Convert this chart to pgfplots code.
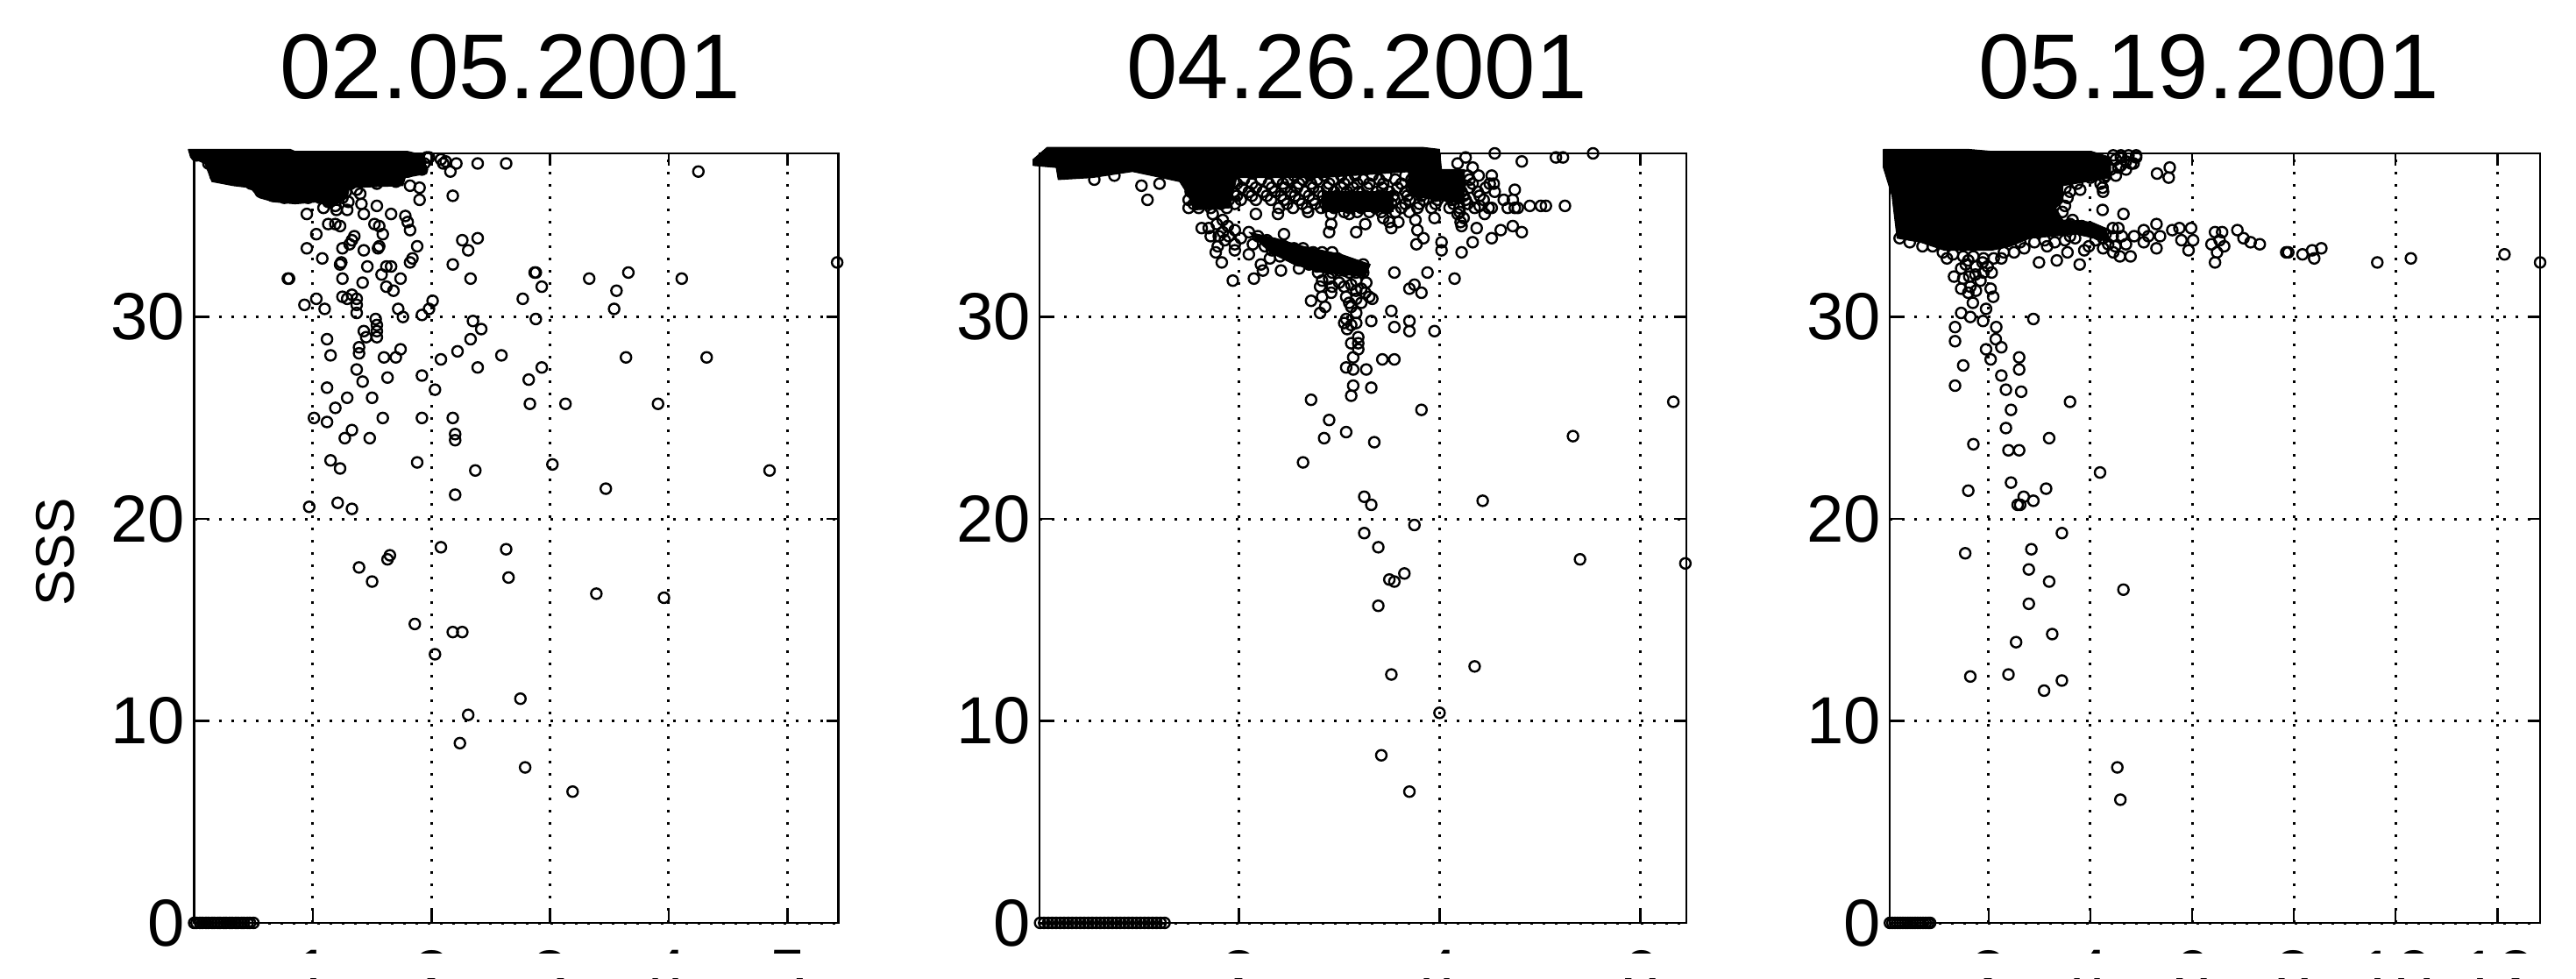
\documentclass[border=0pt]{standalone}
\usepackage{fontspec}
\setmainfont{Liberation Sans}
\usepackage{pgfplots}
\pgfplotsset{compat=1.18}
\newcommand{\titlefont}{\fontsize{52.5}{60}\selectfont}
\newcommand{\tickfont}{\fontsize{38}{44}\selectfont}
\pgfplotsset{
  panel/.style={
    scale only axis, anchor=south west, height=439pt,
    ymin=0, ymax=38.1, ytick={0,10,20,30}, clip=false,
    /pgf/number format/assume math mode=true,
    grid=major,
    grid style={black, line width=1.5pt, dash pattern=on 1.5pt off 5.5pt},
    tick align=inside, major tick length=7pt,
    tick style={black, line width=1.3pt},
    axis line style={line width=1.3pt},
    tick label style={font=\tickfont},
    xticklabel style={inner sep=0pt, yshift=-15.5pt},
    yticklabel style={inner sep=0pt, xshift=-5pt},
    title style={font=\titlefont, at={(0.5,1)}, anchor=base, yshift=25pt, xshift=-3.5pt},
  },
  dots/.style={only marks, mark=o, mark size=3pt, mark options={black, line width=1.2pt, fill=none}},
  blob/.style={black, fill=black, line width=0.5pt, mark=none},
}
\begin{document}
\begin{tikzpicture}
\path[use as bounding box] (0,0) rectangle (1469.5pt,558pt);

% 02.05.2001
\begin{axis}[panel, at={(110.75pt,31.5pt)}, width=367.5pt,
  xmin=0, xmax=5.43, xtick={1,2,3,4,5},
  title={02.05.2001}, ylabel={SSS},
  ylabel style={font=\fontsize{31}{36}\selectfont, at={(axis description cs:-0.216,0.482)}, anchor=center}]
\addplot[blob] coordinates {(-0.05,38.3)(0.81,38.3)(0.85,38.2)(1.07,38.2)(1.80,38.2)(1.94,38.0)(1.96,37.1)(1.78,36.9)(1.76,36.5)(1.31,36.4)(1.29,35.9)(1.15,35.4)(1.05,35.7)(0.85,35.6)(0.67,35.7)(0.55,35.9)(0.47,36.4)(0.33,36.5)(0.15,36.7)(0.09,37.6)(-0.03,37.9)(-0.05,38.3)};
\addplot[dots] coordinates {
(0.12,37.6)(0.18,37.0)(0.28,36.9)(0.38,36.8)(0.48,36.6)(0.56,36.2)(0.66,36.0)(0.76,35.9)(0.86,35.9)(0.96,35.9)(1.06,35.9)(1.13,35.7)(1.20,35.9)(1.28,36.2)(1.32,36.6)(1.42,36.9)(1.52,36.9)(1.62,37.0)(1.72,37.0)(1.80,37.2)(1.92,37.3)(1.94,37.6)(1.98,37.9)(0.02,38.0)(1.25,35.9)(1.40,36.1)(1.30,35.7)(1.20,35.3)
(2.21,37.6)(2.39,37.6)(2.63,37.6)(2.16,37.2)(4.25,37.2)(2.18,36.0)(1.90,35.8)(1.90,36.4)(1.82,36.5)(1.70,36.7)(1.54,36.6)(1.37,36.3)
(2.08,37.8)(2.12,37.7)(2.10,37.6)(1.96,37.9)
(0.95,35.1)(1.09,35.4)(1.19,35.5)(1.19,34.6)(1.13,34.6)(1.23,34.5)(1.29,35.3)(1.41,35.6)(1.43,35.1)(1.54,35.5)(1.66,35.1)(1.78,35.0)(1.80,34.7)(1.82,34.3)(1.52,34.6)(1.56,34.5)(1.59,34.1)(1.03,34.1)(1.35,34.0)(1.33,33.8)
(1.88,33.5)(0.95,33.4)(1.25,33.4)(1.31,33.6)(1.43,33.3)(1.55,33.4)(1.56,33.5)(1.08,32.9)(1.23,32.6)(1.24,32.7)(1.46,32.5)(1.62,32.5)(1.66,32.5)(1.84,32.9)(1.82,32.7)(2.18,32.6)(2.26,33.8)(2.39,33.9)(2.31,33.3)
(0.79,31.9)(0.80,31.9)(1.25,31.9)(1.42,31.7)(1.58,32.1)(1.74,31.9)(1.62,31.5)(1.68,31.3)(2.33,31.9)(2.87,32.2)(2.88,32.2)(2.93,31.5)(3.33,31.9)(3.66,32.2)(4.11,31.9)(3.56,31.3)(5.42,32.7)
(2.77,30.9)(3.54,30.4)(2.88,29.9)(1.25,31.0)(1.33,31.1)(1.37,30.9)(1.29,30.9)(1.03,30.9)(0.93,30.6)(1.10,30.4)(1.37,30.6)(1.37,30.2)(1.72,30.4)(1.76,30.0)(1.92,30.1)(1.98,30.4)(2.01,30.8)
(2.35,29.8)(2.42,29.4)(2.33,28.9)(1.53,29.9)(1.54,29.6)(1.43,29.3)(1.54,29.3)(1.45,29.0)(1.54,29.0)(1.12,28.9)(1.39,28.5)(1.39,28.2)(1.15,28.1)(1.60,28.0)(1.70,28.0)(1.74,28.4)(2.08,27.9)(2.22,28.3)(2.59,28.1)(2.39,27.5)(2.93,27.5)(2.82,26.9)(3.64,28.0)(4.32,28.0)
(1.37,27.4)(1.42,26.8)(1.63,27.0)(1.92,27.1)(2.03,26.4)(1.12,26.5)(1.50,26.0)(1.29,26.0)(1.19,25.5)(2.83,25.7)(3.13,25.7)(3.91,25.7)(1.01,25.0)(1.12,24.8)(1.59,25.0)(1.92,25.0)(2.18,25.0)(1.33,24.4)(1.27,24.0)(1.48,24.0)(2.20,24.2)(2.20,23.9)
(1.15,22.9)(1.23,22.5)(1.88,22.8)(2.37,22.4)(3.02,22.7)(4.85,22.4)(3.47,21.5)(2.20,21.2)(0.97,20.6)(1.21,20.8)(1.33,20.5)
(1.65,18.2)(1.63,18.0)(2.08,18.6)(2.63,18.5)(1.39,17.6)(1.50,16.9)(2.65,17.1)(3.39,16.3)(3.96,16.1)(1.86,14.8)(2.18,14.4)(2.26,14.4)(2.03,13.3)(2.75,11.1)(2.31,10.3)(2.24,8.9)(2.79,7.7)(3.19,6.5)
(0,0)(0.02,0)(0.05,0)(0.07,0)(0.10,0)(0.12,0)(0.15,0)(0.17,0)(0.20,0)(0.22,0)(0.25,0)(0.27,0)(0.30,0)(0.32,0)(0.35,0)(0.37,0)(0.40,0)(0.42,0)(0.45,0)(0.47,0)(0.50,0)
};
\end{axis}

% 04.26.2001
\begin{axis}[panel, at={(593pt,31.5pt)}, width=369pt,
  xmin=0.014, xmax=6.46, xtick={2,4,6},
  title={04.26.2001}]
\addplot[blob] coordinates {(-0.05,37.5)(-0.05,37.8)(0.09,38.4)(3.83,38.4)(4.0,38.3)(4.02,37.3)(2.83,36.9)(1.98,36.9)(1.91,35.4)(1.55,35.3)(1.50,36.0)(1.41,36.7)(1.13,37.0)(0.94,37.2)(0.54,36.9)(0.20,36.8)(0.18,37.4)(-0.05,37.5)};
% darkest parts of the cloud
\addplot[blob] coordinates {(2.83,36.2)(3.54,36.2)(3.54,35.2)(2.83,35.2)(2.83,36.2)};
\addplot[blob] coordinates {(3.69,37.3)(4.25,37.3)(4.25,35.6)(3.69,36.0)(3.69,37.3)};
\addplot[blob] coordinates {(2.10,34.2)(2.36,33.9)(2.64,33.5)(3.02,33.1)(3.31,32.6)(3.26,32.0)(2.83,32.2)(2.55,32.6)(2.31,33.2)(2.10,34.2)};
\addplot[dots] coordinates {
(2.55,37.0)(2.71,37.0)(2.85,37.0)(3.02,37.0)(3.16,37.0)(3.33,37.0)(3.47,37.0)(3.66,37.0)(3.81,37.0)(3.97,37.0)(4.10,37.0)(4.28,37.0)(4.39,37.0)
(2.05,36.8)(2.22,36.8)(2.38,36.8)(2.49,36.8)(2.64,36.8)(2.78,36.8)(2.94,36.8)(3.09,36.8)(3.24,36.8)(3.40,36.8)(3.56,36.8)(3.72,36.8)(3.86,36.8)(4.01,36.8)(4.16,36.8)(4.30,36.8)
(1.98,36.6)(2.13,36.6)(2.30,36.6)(2.44,36.6)(2.60,36.6)(2.72,36.6)(2.90,36.6)(3.05,36.6)(3.18,36.6)(3.30,36.6)(3.44,36.6)(3.62,36.6)(3.74,36.6)(3.90,36.6)(4.03,36.6)(4.20,36.6)(4.33,36.6)(4.50,36.6)
(1.60,36.4)(1.74,36.4)(1.88,36.4)(2.03,36.4)(2.17,36.4)(2.33,36.4)(2.46,36.4)(2.58,36.4)(2.74,36.4)(2.88,36.4)(3.02,36.4)(3.14,36.4)(3.28,36.4)(3.43,36.4)(3.58,36.4)(3.72,36.4)(3.86,36.4)(4.00,36.4)(4.14,36.4)(4.30,36.4)(4.46,36.4)
(1.52,36.2)(1.66,36.2)(1.81,36.2)(1.95,36.2)(2.10,36.2)(2.24,36.2)(2.36,36.2)(2.52,36.2)(2.66,36.2)(2.80,36.2)(2.95,36.2)(3.08,36.2)(3.20,36.2)(3.38,36.2)(3.50,36.2)(3.66,36.2)(3.80,36.2)(3.93,36.2)(4.08,36.2)(4.22,36.2)(4.38,36.2)(4.55,36.2)
(1.56,36.0)(1.70,36.0)(1.85,36.0)(1.98,36.0)(2.13,36.0)(2.28,36.0)(2.42,36.0)(2.56,36.0)(2.70,36.0)(2.84,36.0)(2.98,36.0)(3.12,36.0)(3.26,36.0)(3.40,36.0)(3.54,36.0)(3.68,36.0)(3.82,36.0)(3.96,36.0)(4.10,36.0)(4.24,36.0)(4.40,36.0)
(1.50,35.8)(1.62,35.8)(1.77,35.8)(1.90,35.8)(2.02,35.8)(2.17,35.8)(2.32,35.8)(2.45,35.8)(2.60,35.8)(2.74,35.8)(2.88,35.8)(3.00,35.8)(3.14,35.8)(3.28,35.8)(3.42,35.8)(3.55,35.8)(3.70,35.8)(3.84,35.8)(3.98,35.8)(4.12,35.8)(4.26,35.8)(4.44,35.8)(4.64,35.8)
(1.55,35.6)(1.68,35.6)(1.82,35.6)(1.96,35.6)(2.48,35.6)(2.63,35.6)(2.76,35.6)(2.86,35.6)(3.02,35.6)(3.12,35.6)(3.26,35.6)(3.40,35.6)(3.52,35.6)(3.66,35.6)(3.80,35.6)(3.96,35.6)(4.14,35.6)(4.28,35.6)
(1.50,35.4)(1.60,35.4)(1.72,35.4)(1.88,35.4)(2.40,35.4)(2.54,35.4)(2.68,35.4)(2.82,35.4)(2.95,35.4)(3.10,35.4)(3.22,35.4)(3.36,35.4)(3.48,35.4)(3.62,35.4)(3.78,35.4)(3.92,35.4)(4.10,35.4)(4.20,35.4)(4.35,35.4)(4.52,35.4)(4.68,35.4)(4.78,35.4)
(3.05,35.2)(3.18,35.2)(3.30,35.2)(3.42,35.2)(3.56,35.2)(3.70,35.2)(4.20,35.2)(4.24,34.9)(4.22,34.5)(3.44,34.9)(3.50,34.7)
(1.03,36.5)(1.09,35.8)(0.76,37.0)(1.21,36.6)(0.56,36.8)(2.17,35.1)(2.39,35.1)(2.69,35.2)(2.92,35.1)(3.10,35.1)(2.92,34.6)(2.90,34.2)(3.17,34.2)(3.26,34.6)(3.52,34.4)(3.59,34.7)(3.76,34.8)(3.95,34.9)(3.78,34.3)(3.84,33.9)(3.77,33.6)(4.02,33.7)(4.02,33.3)(4.33,33.7)(4.22,33.2)(4.52,33.9)(4.61,34.3)(4.37,34.4)(4.21,34.7)(4.73,34.5)(4.82,34.2)
(4.75,35.4)(4.90,35.5)(5.01,35.5)(5.06,35.5)(5.25,35.5)(4.73,35.8)(4.75,36.3)(4.54,36.6)(4.52,37.0)(4.33,37.4)(4.18,37.6)(4.26,37.9)(4.55,38.1)(4.82,37.7)(5.16,37.9)(5.23,37.9)(5.53,38.1)(4.40,35.5)(4.49,35.4)(4.45,35.1)(4.18,35.1)
(1.74,35.1)(1.84,34.8)(1.89,34.5)(1.70,34.4)(1.63,34.4)(1.72,34.0)(1.84,34.2)(1.96,34.3)(1.96,33.6)(1.79,33.5)(1.77,33.2)(1.83,32.7)(1.96,33.3)(2.10,33.1)(2.10,34.2)(2.19,34.0)(2.28,33.8)(2.36,33.6)(2.45,34.1)(2.45,33.5)(2.55,33.4)(2.64,33.4)(2.74,33.2)(2.83,33.2)(2.93,33.2)(2.55,33.0)(2.64,32.9)(2.74,32.8)(2.83,32.6)(2.93,32.6)(3.02,32.6)(3.12,32.5)(3.24,32.6)(2.41,33.0)(2.31,32.9)(2.22,32.6)(2.42,32.3)(2.60,32.4)(2.15,31.9)(1.94,31.8)(2.24,32.3)(2.79,32.2)(2.93,32.2)(3.05,32.3)(3.17,32.2)(3.24,32.2)
(1.78,34.6)(1.80,34.0)(1.90,34.0)(1.86,33.8)(2.02,33.9)(2.14,33.6)(2.26,33.5)(2.33,33.3)(2.48,33.2)(2.60,33.2)(2.69,33.1)(2.78,33.0)(2.88,32.9)(2.98,32.9)(2.60,32.8)(2.70,32.6)(2.78,32.5)(2.88,32.5)(3.00,32.3)(3.10,32.2)(3.20,32.4)
(2.83,31.8)(2.81,31.5)(2.93,31.5)(3.05,31.5)(3.17,31.8)(3.27,31.7)(3.17,31.3)(3.26,31.2)(2.83,31.0)(2.72,30.8)(2.86,30.5)(2.81,30.2)(3.07,31.0)(3.17,30.9)(3.33,30.9)(3.12,30.5)(3.17,30.2)(3.07,29.9)(3.17,29.7)(3.08,29.4)(3.32,29.8)(3.52,30.3)(3.70,29.8)(3.55,29.5)(3.70,29.3)(3.95,29.3)
(2.90,31.9)(3.00,31.7)(3.12,31.6)(3.22,31.4)(2.92,31.2)(3.10,30.7)(3.22,30.7)(3.30,31.0)(3.12,29.6)(3.05,29.7)
(3.55,32.2)(3.88,32.2)(4.15,31.9)(3.75,31.6)(3.70,31.4)(3.82,31.2)
(3.19,29.0)(3.19,28.7)(3.12,28.7)(3.19,28.4)(3.14,28.0)(3.43,27.9)(3.55,27.9)(3.07,27.5)(3.14,27.4)(3.27,27.4)(3.14,26.6)(3.32,26.5)(3.12,26.1)(2.72,25.9)(3.82,25.4)(6.33,25.8)(2.90,24.9)(3.07,24.3)(2.85,24.0)(3.35,23.8)(5.33,24.1)(2.64,22.8)(3.25,21.1)(3.32,20.7)(4.43,20.9)
(3.75,19.7)(3.25,19.3)(3.39,18.6)(5.40,18.0)(6.45,17.8)(3.65,17.3)(3.50,17.0)(3.55,16.9)(3.39,15.7)(3.52,12.3)(4.35,12.7)(4.00,10.4)(3.42,8.3)(3.70,6.5)
(0.02,0)(0.06,0)(0.10,0)(0.14,0)(0.18,0)(0.22,0)(0.26,0)(0.30,0)(0.34,0)(0.38,0)(0.42,0)(0.46,0)(0.50,0)(0.54,0)(0.58,0)(0.62,0)(0.66,0)(0.70,0)(0.74,0)(0.78,0)(0.82,0)(0.86,0)(0.90,0)(0.94,0)(0.98,0)(1.02,0)(1.06,0)(1.10,0)(1.14,0)(1.18,0)(1.22,0)(1.26,0)
};
\end{axis}

% 05.19.2001
\begin{axis}[panel, at={(1078pt,31.5pt)}, width=371pt,
  xmin=0.056, xmax=12.84, xtick={2,4,6,8,10,12},
  title={05.19.2001}]
\addplot[blob] coordinates {(-0.07,38.3)(1.60,38.3)(2.06,38.2)(4.02,38.2)(4.40,37.9)(4.40,36.9)(3.46,36.5)(3.46,35.7)(3.32,35.4)(3.46,34.8)(4.02,34.7)(4.30,34.4)(4.39,33.7)(3.74,34.1)(2.81,33.9)(2.43,33.5)(2.06,33.3)(1.13,33.3)(0.66,33.7)(0.20,33.9)(0.10,36.0)(-0.07,37.4)(-0.07,38.3)};
\addplot[dots] coordinates {
(4.45,38.0)(4.60,38.0)(4.75,38.0)(4.90,38.0)(4.85,37.6)(4.70,37.7)(4.55,37.4)(4.50,37.8)(4.60,37.5)(4.70,37.3)(4.80,37.6)(4.90,37.9)(4.60,37.9)(4.40,37.3)(4.50,37.0)(4.30,37.0)(4.00,36.9)(4.20,36.6)(4.24,36.4)(4.25,36.2)(3.80,36.3)(3.60,36.2)(3.55,35.9)(3.50,35.5)(3.45,35.2)(3.60,34.6)(3.75,34.5)(3.90,34.3)(4.05,34.2)(4.25,33.9)(4.35,33.6)(4.45,33.2)(3.70,33.9)(3.50,33.8)(3.30,33.7)(3.10,33.8)(2.90,33.7)(2.70,33.4)(2.50,33.2)(2.30,33.2)(2.10,32.9)(1.90,32.9)(1.70,33.0)(1.50,33.0)(1.30,33.1)(1.10,33.2)(0.90,33.5)(0.70,33.5)(0.45,33.7)(0.25,33.9)(4.55,34.4)(4.62,34.0)(4.70,33.6)(4.25,33.4)(4.10,33.8)
(5.56,37.4)(5.31,37.1)(5.54,36.9)(4.27,36.9)(3.74,36.6)(3.51,36.4)(4.24,35.3)(4.65,35.1)
(4.86,34.0)(5.05,34.3)(5.30,34.6)(5.14,34.0)(5.37,34.0)(5.05,33.7)(5.30,33.4)(5.61,34.3)(5.75,34.4)(5.98,34.4)(5.79,33.8)(6.02,33.8)(5.93,33.3)(6.45,34.2)(6.59,34.2)(6.54,33.8)(6.38,33.6)(6.63,33.5)(6.49,33.2)(6.45,32.7)(6.89,34.3)(7.01,33.9)(7.15,33.7)(7.33,33.6)(7.85,33.2)(7.89,33.2)(8.17,33.1)(8.40,32.9)(8.36,33.3)(8.54,33.4)(9.64,32.7)(10.30,32.9)(12.14,33.1)(12.84,32.7)
(4.16,34.1)(4.44,34.4)(4.30,34.1)(4.44,34.0)(4.49,33.5)(4.58,33.0)(4.79,33.0)(3.97,33.5)(3.88,33.3)(3.55,33.2)(3.34,32.8)(2.99,32.7)(3.79,32.6)(3.15,33.5)(2.62,33.7)(3.65,34.8)(3.83,34.5)(3.60,34.0)
(1.18,32.9)(2.25,32.9)(1.60,32.8)(1.88,32.7)(1.46,32.4)(2.06,32.2)(1.32,32.0)(1.74,32.1)(1.46,31.4)(1.64,31.5)(2.04,31.4)(2.09,31.0)(1.69,30.7)(1.95,30.4)(1.46,30.2)(1.64,30.0)(1.89,29.8)(2.88,29.9)(1.34,29.5)(2.15,29.5)(1.34,28.8)(2.14,28.9)(2.25,28.5)(1.95,28.4)(2.60,28.0)(2.04,27.9)(1.50,27.6)(2.60,27.4)(2.25,27.1)(1.34,26.6)(2.34,26.4)(2.64,26.3)(3.60,25.8)(2.44,25.4)(2.34,24.5)(3.19,24.0)(1.70,23.7)(2.39,23.4)(2.60,23.4)(4.19,22.3)(2.44,21.8)(1.60,21.4)(3.13,21.5)(2.69,21.1)(2.88,20.9)(2.57,20.7)(2.62,20.7)
(1.55,32.6)(1.75,32.5)(1.98,32.5)(1.62,32.0)(1.90,32.2)(1.50,31.9)(1.84,31.8)(1.60,31.2)(1.75,31.3)
(3.44,19.3)(1.54,18.3)(2.84,18.5)(2.79,17.5)(3.19,16.9)(4.65,16.5)(2.79,15.8)(3.25,14.3)(2.54,13.9)(1.64,12.2)(2.39,12.3)(3.44,12.0)(3.09,11.5)(4.53,7.7)(4.59,6.1)
(0.06,0)(0.11,0)(0.16,0)(0.21,0)(0.26,0)(0.31,0)(0.36,0)(0.41,0)(0.46,0)(0.51,0)(0.56,0)(0.61,0)(0.66,0)(0.71,0)(0.76,0)(0.81,0)(0.85,0)
};
\end{axis}

% the source image is cut off through the x tick labels
\fill[white] (0,0) rectangle (1469.5pt,14pt);
\end{tikzpicture}
\end{document}
